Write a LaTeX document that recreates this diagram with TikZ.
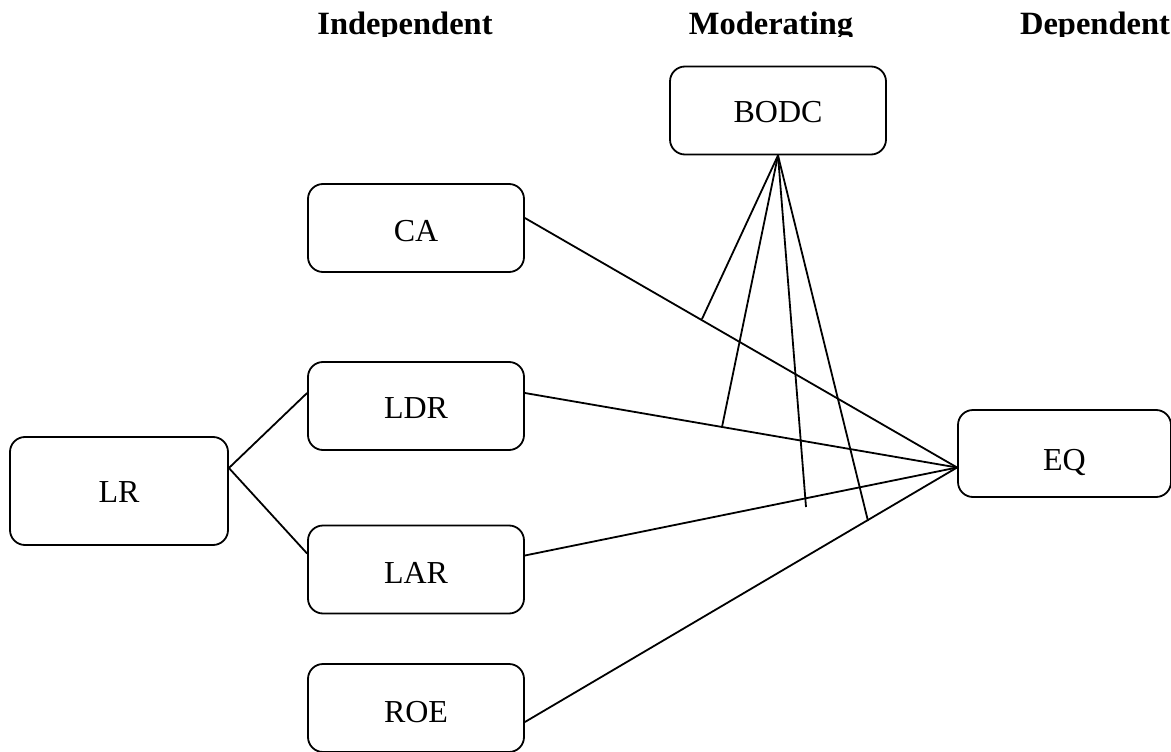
\documentclass[tikz,border=0pt]{standalone}
\usepackage{fontspec}
\setmainfont{Liberation Serif}
\usetikzlibrary{calc}
\begin{document}
\begin{tikzpicture}[x=1pt,y=-1pt,
  box/.style={draw,line width=1.8pt,rounded corners=15pt,minimum width=216pt,minimum height=88pt,inner sep=0pt,text height=21pt,text depth=0pt,font=\fontsize{32}{38}\selectfont},
  conn/.style={line width=1.8pt},
  head/.style={font=\fontsize{32.5}{38}\selectfont\bfseries,anchor=base,inner sep=0pt}]
\useasboundingbox (0,0) rectangle (1171,752);
\begin{scope}
\clip (0,0) rectangle (1171,36.5);
\node[head] (hI) at (405,35) {Independent};
\node[head] (hM) at (771,35) {Moderating};
\node[head] (hD) at (1095,35) {Dependent};
\end{scope}
\node[box,text height=23pt] (BODC) at (778,110.5) {BODC};
\node[box,text height=27pt] (CA) at (416,228) {CA};
\node[box,text height=25pt] (LDR) at (416,406) {LDR};
\node[box,text height=27pt] (LAR) at (416,569.5) {LAR};
\node[box,text height=29pt] (ROE) at (416,708) {ROE};
\node[box,text height=23pt,minimum width=218pt,minimum height=108pt] (LR) at (119,491) {LR};
\node[box,text height=33pt,minimum width=213pt,minimum height=87pt] (EQ) at (1064.5,453.5) {EQ};
\coordinate (EQin) at ($(EQ.west)+(0,14)$);
\coordinate (LRout) at ($(LR.east)+(0,-23)$);
\draw[conn] (LRout) -- ($(LDR.west)+(0,-13)$);
\draw[conn] (LRout) -- ($(LAR.west)+(0,-16)$);
\draw[conn] ($(CA.east)+(0,-10)$) -- (EQin);
\draw[conn] ($(LDR.east)+(0,-13)$) -- (EQin);
\draw[conn] ($(LAR.east)+(0,-14)$) -- (EQin);
\draw[conn] ($(ROE.east)+(0,14)$) -- (EQin);
\coordinate (m1) at (702,319);
\coordinate (m2) at (722,427);
\coordinate (m3) at (806,507);
\coordinate (m4) at (868,521);
\foreach \m in {m1,m2,m3,m4} \draw[conn] (BODC.south) -- (\m);
\end{tikzpicture}
\end{document}
